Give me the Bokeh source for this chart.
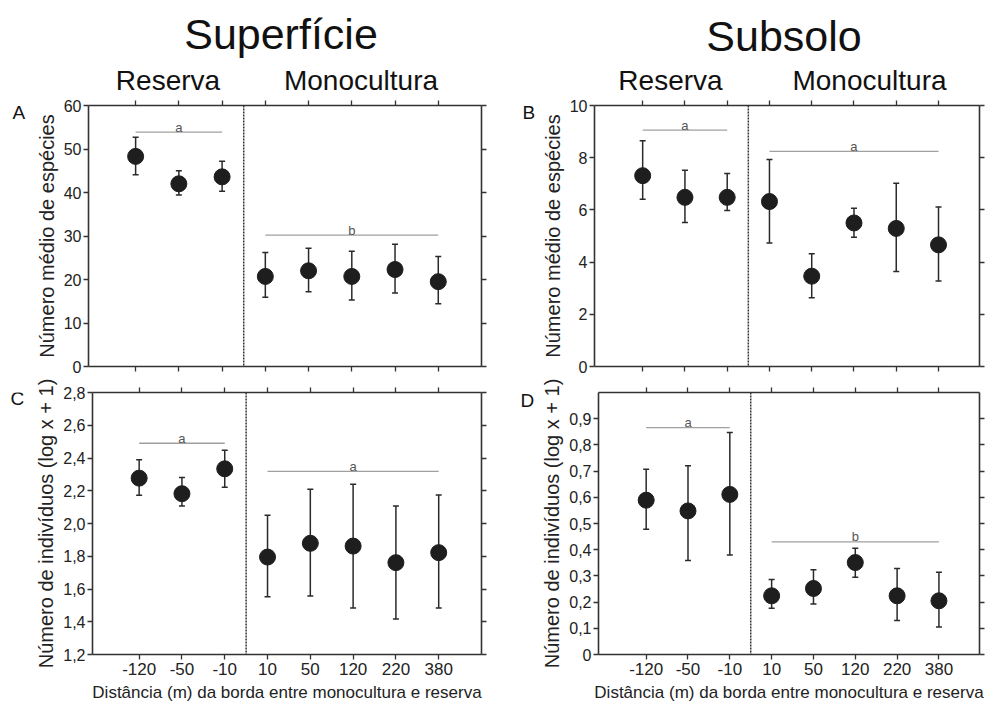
from bokeh.plotting import figure
from bokeh.models import (Range1d, FixedTicker, LinearAxis, Span, Whisker, TeeHead,
                          ColumnDataSource, CustomJSTickFormatter, CustomLabelingPolicy)
from bokeh.layouts import row, column
from bokeh.embed import file_html
from bokeh.resources import INLINE
from bokeh.core.properties import value

FONT = "Liberation Sans"
DARK = "#1e1e1e"

# ---------------- data ----------------
categories = ["-120", "-50", "-10", "10", "50", "120", "220", "380"]
n_reserva = 3  # first three distances are in the reserve

# A: Superfície – número médio de espécies
A_mean = [48.3, 42.0, 43.6, 20.7, 22.0, 20.7, 22.3, 19.5]
A_upper = [52.7, 45.0, 47.2, 26.2, 27.2, 26.5, 28.1, 25.3]
A_lower = [44.1, 39.4, 40.3, 15.9, 17.2, 15.3, 16.9, 14.4]

# B: Subsolo – número médio de espécies
B_mean = [7.31, 6.48, 6.48, 6.32, 3.46, 5.50, 5.29, 4.66]
B_upper = [8.65, 7.52, 7.39, 7.93, 4.32, 6.06, 7.02, 6.11]
B_lower = [6.41, 5.52, 5.98, 4.73, 2.63, 4.95, 3.64, 3.28]

# C: Superfície – número de indivíduos (log x + 1)
C_mean = [2.277, 2.182, 2.334, 1.795, 1.879, 1.862, 1.761, 1.822]
C_upper = [2.389, 2.281, 2.447, 2.050, 2.209, 2.239, 2.107, 2.174]
C_lower = [2.172, 2.107, 2.221, 1.552, 1.558, 1.484, 1.417, 1.484]

# D: Subsolo – número de indivíduos (log x + 1)
D_mean = [0.589, 0.548, 0.611, 0.224, 0.252, 0.351, 0.224, 0.205]
D_upper = [0.707, 0.720, 0.847, 0.286, 0.323, 0.406, 0.328, 0.314]
D_lower = [0.478, 0.359, 0.380, 0.177, 0.193, 0.295, 0.130, 0.105]

# significance groups: start index, end index, y level, letter
A_sig_x0 = [0, 3]; A_sig_x1 = [2, 7]; A_sig_y = [53.9, 30.2]; A_sig_txt = ["a", "b"]
B_sig_x0 = [0, 3]; B_sig_x1 = [2, 7]; B_sig_y = [9.06, 8.24]; B_sig_txt = ["a", "a"]
C_sig_x0 = [0, 3]; C_sig_x1 = [2, 7]; C_sig_y = [2.49, 2.318]; C_sig_txt = ["a", "a"]
D_sig_x0 = [0, 3]; D_sig_x1 = [2, 7]; D_sig_y = [0.866, 0.43]; D_sig_txt = ["a", "b"]

A_yticks = [0, 10, 20, 30, 40, 50, 60]
B_yticks = [0, 2, 4, 6, 8, 10]
C_yticks = [1.2, 1.4, 1.6, 1.8, 2.0, 2.2, 2.4, 2.6, 2.8]
D_yticks = [0, 0.1, 0.2, 0.3, 0.4, 0.5, 0.6, 0.7, 0.8, 0.9]

ylab_sp = "Número médio de espécies"
ylab_ind = "Número de indivíduos (log x + 1)"
xlab = "Distância (m) da borda entre monocultura e reserva"

comma_fmt = CustomJSTickFormatter(code="return tick === 0 ? '0' : tick.toFixed(1).replace('.', ',');")
no_labels = CustomLabelingPolicy(code="return [];")


def style(ax):
    ax.axis_line_color = "#333333"
    ax.axis_line_width = 1.6
    ax.major_tick_line_color = "#333333"
    ax.major_tick_line_width = 1.3
    ax.major_tick_in = 0
    ax.major_tick_out = 5
    ax.minor_tick_line_color = None
    ax.major_label_text_font = FONT
    ax.major_label_text_color = "#222222"
    ax.axis_label_text_font = FONT
    ax.axis_label_text_font_style = "normal"
    ax.axis_label_text_color = "#222222"


def hide_labels(ax):
    ax.major_label_policy = no_labels
    ax.major_label_text_font_size = "1px"
    ax.major_label_standoff = 0


def panel(width, height, mbl, mbr, mbt, mbb, xr, yr, yticks, mean, upper, lower,
          sx0, sx1, sy, stxt, ylabel, bottom_labels, yfmt=None):
    p = figure(width=width, height=height, x_range=Range1d(*xr), y_range=Range1d(*yr),
               output_backend="svg", toolbar_location=None, title=None,
               min_border_left=mbl, min_border_right=mbr,
               min_border_top=mbt, min_border_bottom=mbb)
    p.outline_line_color = None
    p.grid.visible = False

    idx = list(range(len(categories)))
    xfmt = CustomJSTickFormatter(args=dict(labels=categories),
                                 code="return labels[Math.round(tick)];")

    xa = p.xaxis[0]
    style(xa)
    xa.ticker = FixedTicker(ticks=idx)
    xa.formatter = xfmt
    if bottom_labels:
        xa.major_label_text_font_size = "17px"
        xa.major_label_standoff = 3
        xa.axis_label = xlab
        xa.axis_label_text_font_size = "17px"
        xa.axis_label_standoff = 5
    else:
        hide_labels(xa)

    ya = p.yaxis[0]
    style(ya)
    ya.ticker = FixedTicker(ticks=yticks)
    if yfmt is not None:
        ya.formatter = yfmt
    ya.major_label_text_font_size = "16px"
    ya.major_label_standoff = 2
    ya.axis_label = ylabel
    ya.axis_label_text_font_size = "20px"
    ya.axis_label_standoff = 3

    ra = LinearAxis(ticker=FixedTicker(ticks=yticks))
    style(ra)
    hide_labels(ra)
    p.add_layout(ra, "right")
    ta = LinearAxis(ticker=FixedTicker(ticks=idx))
    style(ta)
    hide_labels(ta)
    p.add_layout(ta, "above")

    p.add_layout(Span(location=n_reserva - 0.5, dimension="height",
                      line_color="#333333", line_width=1.5, line_dash="2 1"))

    sig = ColumnDataSource(dict(x0=sx0, x1=sx1, y=sy, txt=stxt,
                                xm=[(a + b) / 2 for a, b in zip(sx0, sx1)]))
    p.segment(x0="x0", y0="y", x1="x1", y1="y", source=sig,
              line_color="#a0a0a0", line_width=1.3)
    p.text(x="xm", y="y", text="txt", source=sig, text_font=value(FONT),
           text_font_size="13px", text_color="#555555", text_align="center",
           text_baseline="alphabetic", y_offset=-5)

    src = ColumnDataSource(dict(x=idx, mean=mean, upper=upper, lower=lower))
    head = dict(size=6, line_color="#2a2a2a", line_width=1.5)
    p.add_layout(Whisker(source=src, base="x", upper="upper", lower="lower",
                         dimension="height", line_color="#2a2a2a", line_width=1.5,
                         upper_head=TeeHead(**head), lower_head=TeeHead(**head)))
    p.scatter(x="x", y="mean", source=src, size=16, fill_color=DARK, line_color=DARK)
    return p


def text_fig(width, height, items):
    """A blank figure that only carries headings (pixel-like coordinates)."""
    p = figure(width=width, height=height, x_range=Range1d(0, width), y_range=Range1d(0, height),
               output_backend="svg", toolbar_location=None, title=None,
               x_axis_type=None, y_axis_type=None,
               min_border=0, min_border_left=0, min_border_right=0,
               min_border_top=0, min_border_bottom=0)
    p.outline_line_color = None
    p.grid.visible = False
    for txt, x, y, size, align in items:
        p.text(x=[x], y=[y], text=[txt], text_font=value(FONT), text_font_size=size,
               text_color="#111111", text_align=align, text_baseline="middle")
    return p


xr_left = (-1.09, 8.0)
xr_right = (-1.14, 7.97)

H0, H1, H2 = 96, 282, 329

headL = text_fig(500, H0, [("Superfície", 280.5, 63, "43px", "center"),
                          ("Reserva", 167.5, 16, "28px", "center"),
                          ("Monocultura", 360.5, 16, "28px", "center")])
headR = text_fig(488, H0, [("Subsolo", 283.5, 61, "43px", "center"),
                          ("Reserva", 170, 16, "28px", "center"),
                          ("Monocultura", 369, 16, "28px", "center")])

letA = text_fig(32, H1, [("A", 12, 274, "19px", "left")])
letB = text_fig(38, H1, [("B", 22, 274, "19px", "left")])
letC = text_fig(32, H2, [("C", 10, 321, "19px", "left")])
letD = text_fig(38, H2, [("D", 20, 319, "19px", "left")])

pA = panel(468, H1, 56, 19, 8, 12, xr_left, (0, 60), A_yticks, A_mean, A_upper, A_lower,
           A_sig_x0, A_sig_x1, A_sig_y, A_sig_txt, ylab_sp, False)
pB = panel(450, H1, 56, 5, 8, 12, xr_right, (0, 10), B_yticks, B_mean, B_upper, B_lower,
           B_sig_x0, B_sig_x1, B_sig_y, B_sig_txt, ylab_sp, False)
pC = panel(468, H2, 56, 19, 14, 53, xr_left, (1.2, 2.8), C_yticks, C_mean, C_upper, C_lower,
           C_sig_x0, C_sig_x1, C_sig_y, C_sig_txt, ylab_ind, True, comma_fmt)
pD = panel(450, H2, 56, 5, 14, 53, xr_right, (0, 1.0), D_yticks, D_mean, D_upper, D_lower,
           D_sig_x0, D_sig_x1, D_sig_y, D_sig_txt, ylab_ind, True, comma_fmt)

layout = column(row(headL, headR),
                row(letA, pA, letB, pB),
                row(letC, pC, letD, pD))
open("out.html", "w").write(file_html(layout, INLINE))
